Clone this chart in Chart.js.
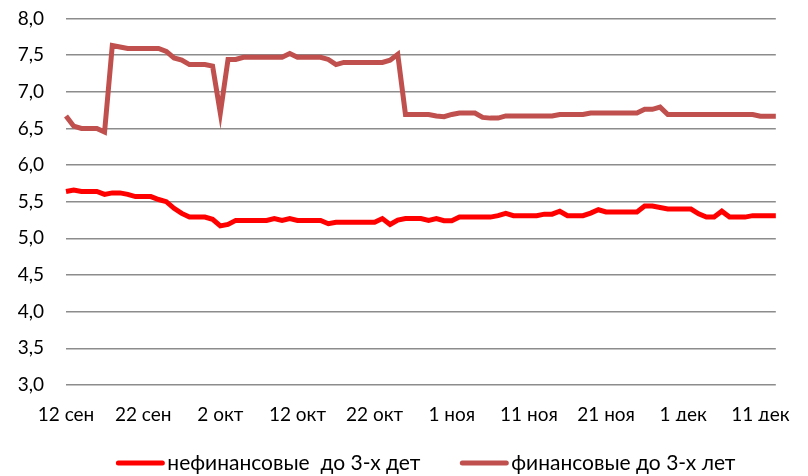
<!DOCTYPE html>
<html>
<head>
<meta charset="utf-8">
<script src="https://cdn.jsdelivr.net/npm/chart.js@4/dist/chart.umd.min.js"></script>
<style>
  html, body { margin: 0; padding: 0; background: #fff; }
  #wrap { width: 808px; height: 476px; overflow: hidden; position: relative; }
  #chart { position: absolute; left: 0; top: -15px; }
</style>
</head>
<body>
<div id="wrap"><canvas id="chart" width="808" height="500"></canvas></div>
<script>
// days from 12 сен to 13 дек, one point per day
const months = ['сен', 'окт', 'ноя', 'дек']
const monthDays = [30, 31, 30, 31]
const categories = []
let m = 0, d = 12
for (let i = 0; i < 93; i++) {
    categories.push(d + ' ' + months[m])
    d++
    if (d > monthDays[m]) { d = 1; m++ }
}

const tickLabels = ['12 сен', '22 сен', '2 окт', '12 окт', '22 окт', '1 ноя', '11 ноя', '21 ноя', '1 дек', '11 дек']

const nonFinancial = [
    5.64, 5.66, 5.64, 5.64, 5.64, 5.60, 5.62, 5.62, 5.60, 5.57,
    5.57, 5.57, 5.53, 5.50, 5.41, 5.34, 5.29, 5.29, 5.29, 5.26,
    5.17, 5.19, 5.245, 5.245, 5.245, 5.245, 5.245, 5.27, 5.245, 5.27,
    5.245, 5.245, 5.245, 5.245, 5.20, 5.22, 5.22, 5.22, 5.22, 5.22,
    5.22, 5.27, 5.19, 5.25, 5.27, 5.27, 5.27, 5.245, 5.27, 5.24,
    5.24, 5.29, 5.29, 5.29, 5.29, 5.29, 5.31, 5.34, 5.31, 5.31,
    5.31, 5.31, 5.33, 5.33, 5.37, 5.31, 5.31, 5.31, 5.345, 5.39,
    5.36, 5.36, 5.36, 5.36, 5.36, 5.44, 5.44, 5.42, 5.40, 5.40,
    5.40, 5.40, 5.335, 5.29, 5.29, 5.37, 5.29, 5.29, 5.29, 5.31,
    5.31, 5.31, 5.31
]

const financial = [
    6.67, 6.53, 6.50, 6.50, 6.50, 6.45, 7.63, 7.61, 7.59, 7.59,
    7.59, 7.59, 7.59, 7.55, 7.46, 7.43, 7.37, 7.37, 7.37, 7.35,
    6.71, 7.44, 7.44, 7.47, 7.47, 7.47, 7.47, 7.47, 7.47, 7.52,
    7.47, 7.47, 7.47, 7.47, 7.44, 7.37, 7.40, 7.40, 7.40, 7.40,
    7.40, 7.40, 7.43, 7.51, 6.69, 6.69, 6.69, 6.69, 6.67, 6.66,
    6.69, 6.71, 6.71, 6.71, 6.65, 6.64, 6.64, 6.67, 6.67, 6.67,
    6.67, 6.67, 6.67, 6.67, 6.69, 6.69, 6.69, 6.69, 6.71, 6.71,
    6.71, 6.71, 6.71, 6.71, 6.71, 6.76, 6.76, 6.79, 6.69, 6.69,
    6.69, 6.69, 6.69, 6.69, 6.69, 6.69, 6.69, 6.69, 6.69, 6.69,
    6.665, 6.665, 6.665
]

const seriesNames = ['нефинансовые  до 3-х дет', 'финансовые до 3-х лет']
const seriesColors = ['#FF0000', '#C0504D']

const fontFamily = 'Lato, "DejaVu Sans", sans-serif'
Chart.defaults.font.family = fontFamily
Chart.defaults.font.size = 19
Chart.defaults.color = '#000'

// legend drawn by hand so the gap between the line sample and the text is small,
// like in the original; it is centred under the plot area
const bottomLegend = {
    id: 'bottomLegend',
    afterDraw: function(chart) {
        let c = chart.ctx
        let area = chart.chartArea
        let sets = chart.data.datasets
        let boxW = 48, gap = 3, itemGap = 40
        c.save()
        c.font = '21px ' + fontFamily
        let total = 0
        sets.forEach(function(ds, i) {
            total += boxW + gap + c.measureText(ds.label).width
            if (i > 0) total += itemGap
        })
        let x = (area.left + area.right) / 2 - total / 2 + 5
        let y = 478
        sets.forEach(function(ds) {
            c.strokeStyle = ds.borderColor
            c.lineWidth = 5
            c.lineCap = 'round'
            c.beginPath()
            c.moveTo(x + 2, y)
            c.lineTo(x + boxW - 2, y)
            c.stroke()
            c.fillStyle = '#000'
            c.textBaseline = 'middle'
            c.textAlign = 'left'
            c.fillText(ds.label, x + boxW + gap, y)
            x += boxW + gap + c.measureText(ds.label).width + itemGap
        })
        c.restore()
    }
}

let ctx = document.getElementById('chart').getContext('2d')
new Chart(ctx, {
    type: 'line',
    data: {
        labels: categories,
        datasets: [
            {
                label: seriesNames[0],
                data: nonFinancial,
                borderColor: seriesColors[0],
                backgroundColor: seriesColors[0],
                borderWidth: 5,
                pointRadius: 0,
                tension: 0,
                fill: false
            },
            {
                label: seriesNames[1],
                data: financial,
                borderColor: seriesColors[1],
                backgroundColor: seriesColors[1],
                borderWidth: 5,
                pointRadius: 0,
                tension: 0,
                fill: false
            }
        ]
    },
    plugins: [bottomLegend],
    options: {
        responsive: false,
        animation: false,
        layout: { padding: { top: 0, right: 20, left: 0, bottom: 64 } },
        plugins: {
            tooltip: { enabled: false },
            legend: { display: false }
        },
        scales: {
            x: {
                offset: false,
                afterFit: function(scale) { scale.height = 36 },
                grid: { display: false, drawTicks: false },
                border: { display: false },
                ticks: {
                    autoSkip: false,
                    maxRotation: 0,
                    padding: 18,
                    callback: function(val, i) {
                        return i % 10 === 0 ? tickLabels[i / 10] : null
                    }
                }
            },
            y: {
                min: 3,
                max: 8,
                afterFit: function(scale) { scale.width = 66 },
                grid: { color: '#8c8c8c', lineWidth: 1.5, drawTicks: false },
                border: { display: false },
                ticks: {
                    stepSize: 0.5,
                    padding: 22,
                    callback: function(v) { return v.toFixed(1).replace('.', ',') }
                }
            }
        }
    }
})
</script>
</body>
</html>
